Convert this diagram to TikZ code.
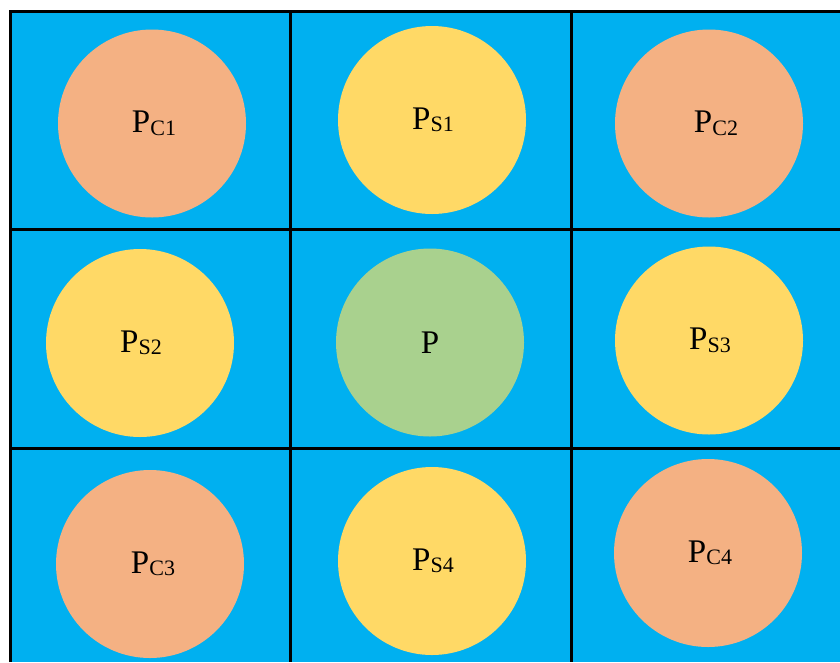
\documentclass[tikz,border=0pt]{standalone}
\usepackage{fontspec}
\setmainfont{Liberation Serif}
\usetikzlibrary{positioning}

\definecolor{cellblue}{HTML}{00B0F0}
\definecolor{cornerfill}{HTML}{F4B183}
\definecolor{sidefill}{HTML}{FFD966}
\definecolor{centrefill}{HTML}{A9D18E}

\newcommand{\lbl}[1]{\raisebox{-2.5pt}{\fontsize{22}{22}\selectfont #1}}

\begin{document}
\begin{tikzpicture}[x=1pt,y=-1pt,
    disc/.style={circle,minimum size=188pt,inner sep=0pt,font=\fontsize{33}{33}\selectfont},
    cornerdisc/.style={disc,fill=cornerfill},
    sidedisc/.style={disc,fill=sidefill},
    centredisc/.style={disc,fill=centrefill},
    every label/.style={font=\fontsize{33}{33}\selectfont,inner sep=0pt},
    gridline/.style={line width=3pt,black}]
      \useasboundingbox (0,0) rectangle (840,662);
      \fill[cellblue] (10.5,11.5) rectangle (840,662);
      % grid
      \draw[gridline] (10.5,662) -- (10.5,11.5) -- (840,11.5);
      \foreach \x in {290.5,571.5}
        \draw[gridline] (\x,11.5) -- (\x,662);
      \foreach \y in {229.5,448.5}
        \draw[gridline] (10.5,\y) -- (840,\y);
      % top row
      \node[cornerdisc,label={[xshift=2pt]center:P\lbl{C1}}] (pc1) at (152,123.5) {};
      \node[sidedisc,label={[xshift=1pt]center:P\lbl{S1}}] (ps1) at (432,120) {};
      \node[cornerdisc,label={[xshift=7pt]center:P\lbl{C2}}] (pc2) at (709,123.5) {};
      % middle row
      \node[sidedisc,label={[xshift=1pt]center:P\lbl{S2}}] (ps2) at (140,343) {};
      \node[centredisc] (p) at (430,342.5) {P};
      \node[sidedisc,label={[xshift=1pt]center:P\lbl{S3}}] (ps3) at (709,340.5) {};
      % bottom row
      \node[cornerdisc,label={[xshift=3pt]center:P\lbl{C3}}] (pc3) at (150,564) {};
      \node[sidedisc,label={[xshift=1pt]center:P\lbl{S4}}] (ps4) at (432,561) {};
      \node[cornerdisc,label={[xshift=2pt]center:P\lbl{C4}}] (pc4) at (708,553) {};
    \end{tikzpicture}
\end{document}
